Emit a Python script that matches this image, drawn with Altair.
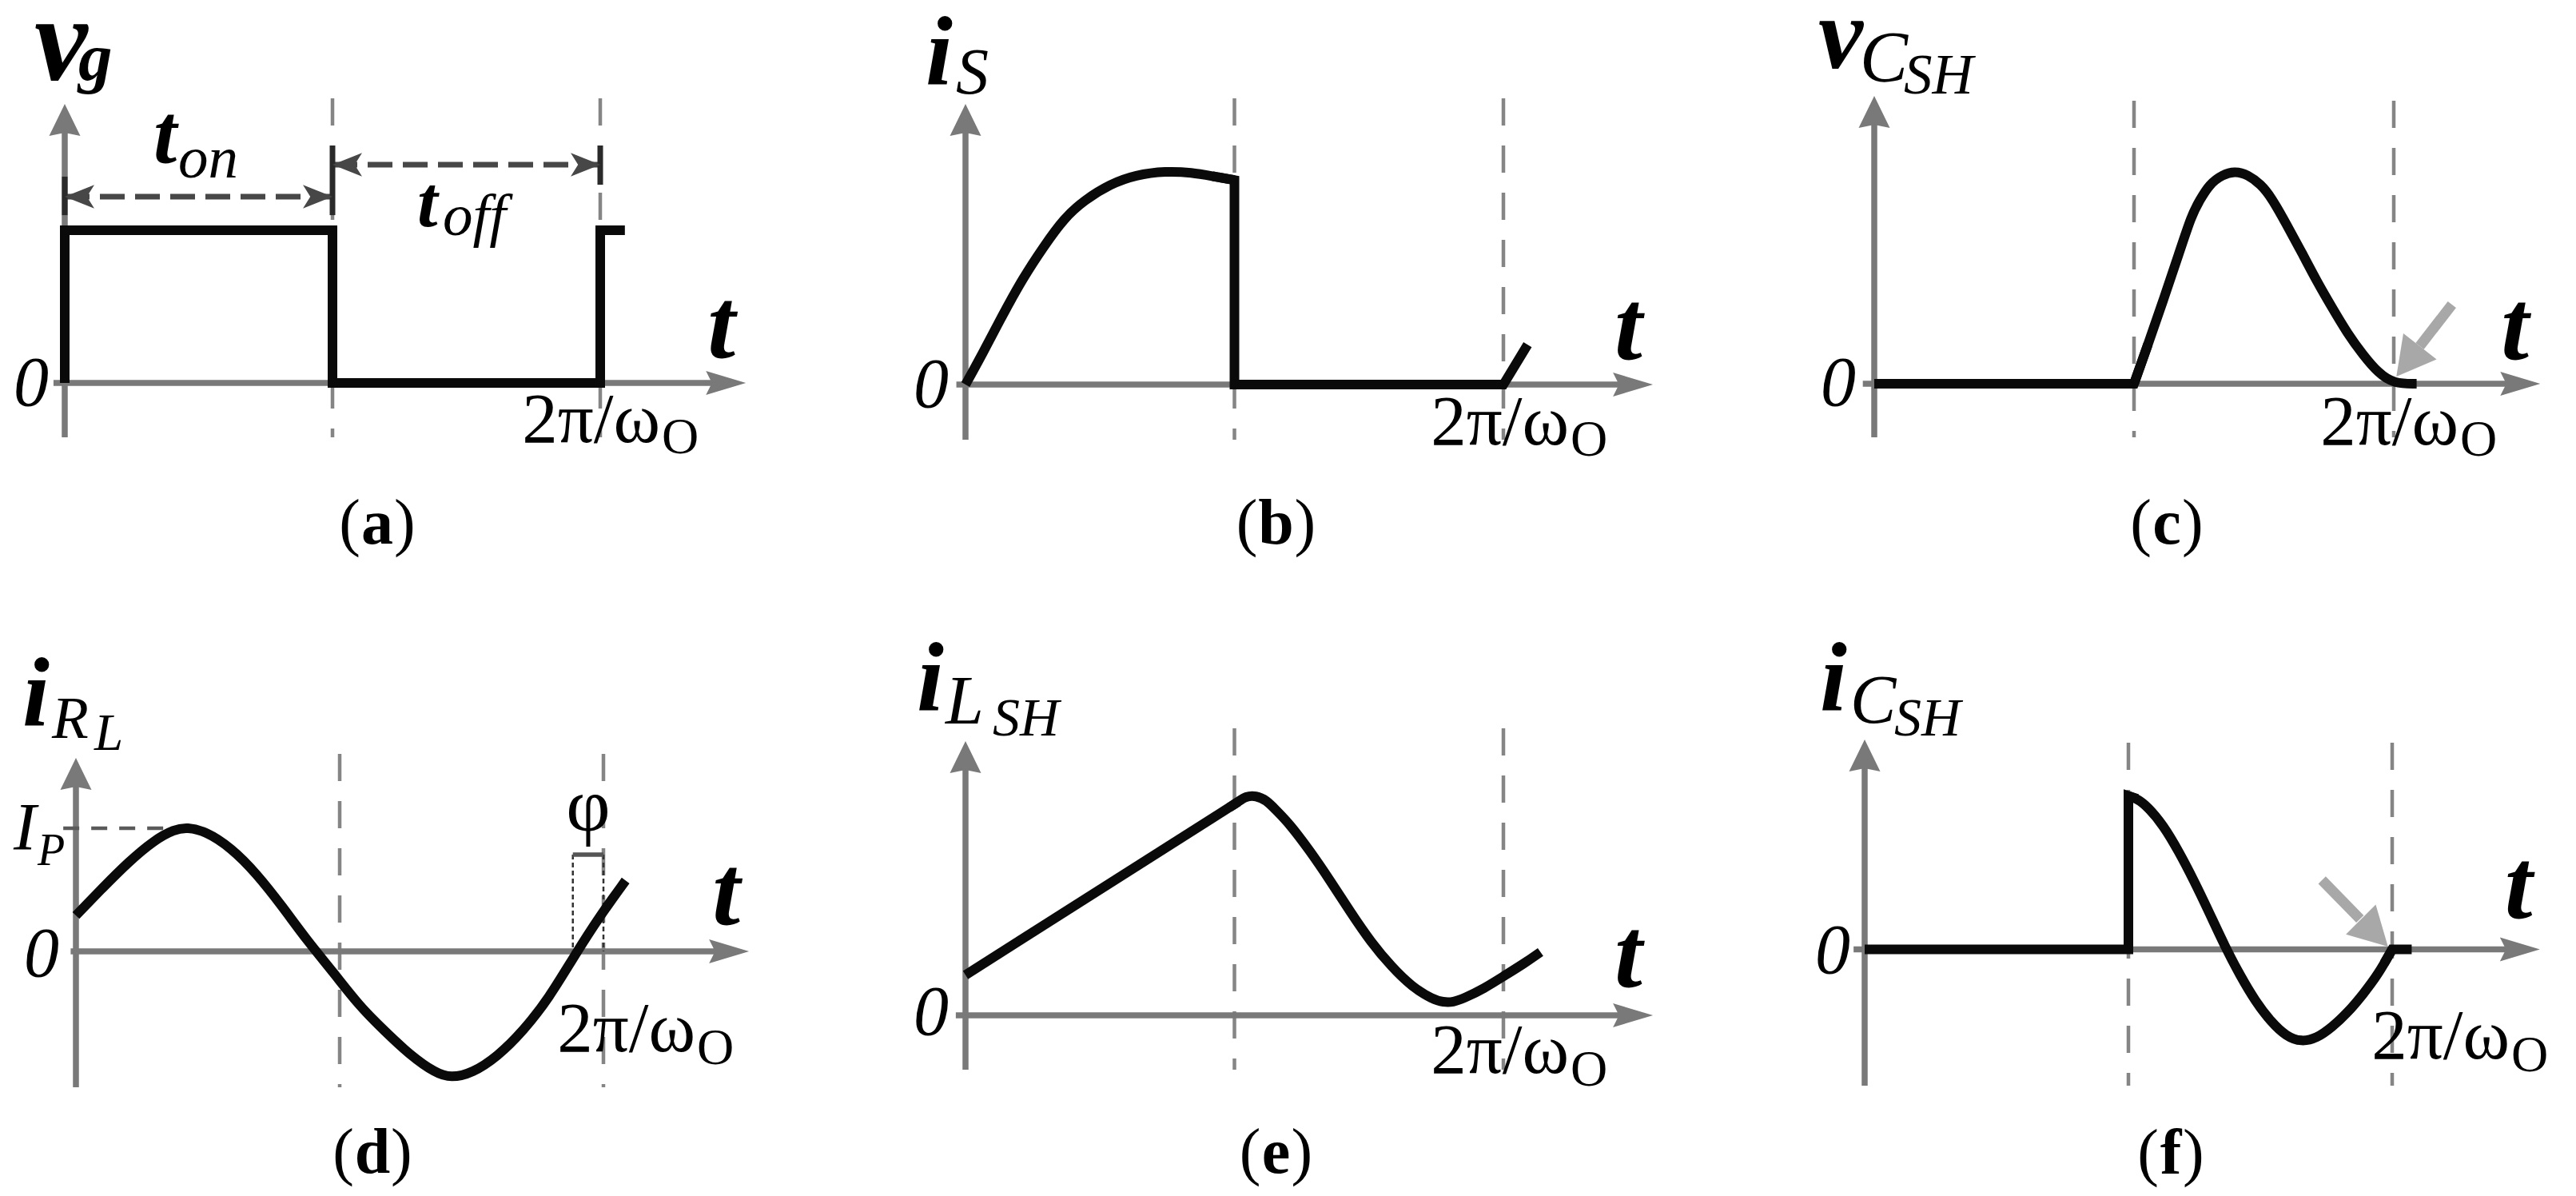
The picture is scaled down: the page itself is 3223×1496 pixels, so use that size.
import altair as alt
import pandas as pd

FONT = "Liberation Serif"
W, H = 1069, 740
AX_COL = "#797979"
GUIDE_COL = "#858585"
SIG_COL = "#0a0a0a"
NOTE_COL = "#474747"
HINT_COL = "#a8a8a8"

# ---------------- data (t in periods 2*pi/w0, values normalised) ----------------
# (a) gate voltage v_g
a_t = [0, 0, 0.5, 0.5, 1.0, 1.0, 1.046]
a_v = [0, 1, 1, 0, 0, 1, 1]
a_ton_v = 1.22
a_toff_v = 1.429

# (b) switch current i_S
b_rise_t = [0, 0.0305, 0.0686, 0.107, 0.145, 0.183, 0.221, 0.269, 0.316, 0.373, 0.421, 0.459, 0.5]
b_rise_v = [0, 0.139, 0.324, 0.50, 0.645, 0.779, 0.864, 0.939, 0.982, 1.0, 0.993, 0.976, 0.958]
b_off_t = [0.459, 0.5, 0.5, 1.0, 1.045]
b_off_v = [0.976, 0.958, 0, 0, 0.187]

# (c) shunt capacitor voltage v_CSH
c_flat_t = [0, 0.5, 0.527]
c_flat_v = [0, 0, 0.186]
c_pulse_t = [0.5, 0.527, 0.557, 0.586, 0.611, 0.626, 0.645, 0.670, 0.695, 0.719, 0.744, 0.764,
             0.793, 0.823, 0.852, 0.882, 0.911, 0.941, 0.970, 1.0, 1.044]
c_pulse_v = [0, 0.186, 0.397, 0.608, 0.794, 0.861, 0.938, 0.983, 1.0, 0.983, 0.938, 0.878,
             0.752, 0.617, 0.481, 0.355, 0.236, 0.135, 0.051, 0.0, 0.0]

# (d) load current i_RL
d_t = [0, 0.0505, 0.0991, 0.148, 0.187, 0.211, 0.245, 0.294, 0.342, 0.391, 0.439, 0.488,
       0.536, 0.585, 0.633, 0.682, 0.711, 0.751, 0.799, 0.848, 0.897, 0.945, 0.994, 1.042]
d_v = [0.288, 0.509, 0.715, 0.891, 0.979, 0.994, 0.965, 0.832, 0.626, 0.362, 0.082, -0.168,
       -0.432, -0.638, -0.830, -0.977, -1.015, -0.977, -0.844, -0.638, -0.373, -0.035, 0.288, 0.568]
d_ip_v = 0.987
d_phi_t = [0.942, 1.0]
d_phi_v = 0.776

# (e) shunt inductor current i_LSH
e_ramp_t = [0, 0.507]
e_ramp_v = [0.184, 0.975]
e_ring_t = [0.49, 0.507, 0.521, 0.540, 0.559, 0.578, 0.602, 0.640, 0.678, 0.716, 0.754, 0.792,
            0.830, 0.869, 0.888, 0.907, 0.926, 0.964, 1.002, 1.040, 1.069]
e_ring_v = [0.948, 0.975, 1.0, 1.003, 0.983, 0.935, 0.875, 0.752, 0.615, 0.470, 0.333, 0.222,
            0.130, 0.072, 0.060, 0.060, 0.077, 0.122, 0.181, 0.239, 0.289]

# (f) shunt capacitor current i_CSH
f_flat_t = [0, 0.5, 0.5, 0.517]
f_flat_v = [0, 0, 1.0, 0.981]
f_ring_t = [0.5, 0.517, 0.537, 0.566, 0.595, 0.624, 0.654, 0.683, 0.712, 0.741, 0.770, 0.799,
            0.828, 0.857, 0.886, 0.916, 0.945, 0.974, 1.0]
f_ring_v = [1.0, 0.981, 0.928, 0.809, 0.641, 0.450, 0.234, 0.019, -0.172, -0.340, -0.471, -0.567,
            -0.603, -0.579, -0.507, -0.411, -0.292, -0.160, 0.0]
f_end_t = [0.985, 1.0, 1.037]
f_end_v = [-0.09, 0.0, 0.0]

# gray hint arrows (tail, shaft end, tip)
c_hint_t = [1.112, 1.05, 1.005]
c_hint_v = [0.372, 0.177, 0.034]
f_hint_t = [0.867, 0.939, 0.992]
f_hint_v = [0.451, 0.198, 0.018]

# ---------------- shapes ----------------
X_HEAD = "M0,0L-2,-0.6L-1.7,0L-2,0.6Z"
Y_HEAD = "M0,0L-2,-0.975L-1.8,0L-2,0.975Z"
DIM_HEAD = "M0,0L-2,-0.8L-1.5,0L-2,0.8Z"
HINT_HEAD = "M0,0L-2,-1.1L-2,1.1Z"


def make_panel(p, extra_fn, labels):
    ox = p["ox"] - 8 - p["col"] * W
    oy = p["oy"] - 8 - p["row"] * H
    sx = alt.Scale(domain=[-ox / p["pt"], (W - ox) / p["pt"]], nice=False, zero=False)
    sy = alt.Scale(domain=[-(H - oy) / p["pa"], oy / p["pa"]], nice=False, zero=False)

    def X(f):
        return alt.X(f"{f}:Q", scale=sx, axis=None)

    def Y(f):
        return alt.Y(f"{f}:Q", scale=sy, axis=None)

    def rules(rows, **style):
        df = pd.DataFrame(rows, columns=["x1", "y1", "x2", "y2"])
        return alt.Chart(df).mark_rule(**style).encode(
            x=X("x1"), y=Y("y1"), x2=alt.X2("x2:Q"), y2=alt.Y2("y2:Q"))

    def head(t, v, angle, shape, size, color):
        df = pd.DataFrame({"t": [t], "v": [v]})
        return alt.Chart(df).mark_point(shape=shape, size=size, angle=angle, filled=True,
                                        color=color, opacity=1, strokeWidth=0).encode(
            x=X("t"), y=Y("v"))

    def curve(ts, vs, interp, color=SIG_COL, width=12):
        df = pd.DataFrame({"t": ts, "v": vs, "i": list(range(len(ts)))})
        return alt.Chart(df).mark_line(interpolate=interp, color=color, strokeWidth=width,
                                       strokeJoin="miter", strokeCap="butt").encode(
            x=X("t"), y=Y("v"), order="i:Q")

    def label(t, v, s, dx, dy, size, style="normal", weight="normal", align="left"):
        df = pd.DataFrame({"t": [t], "v": [v]})
        return alt.Chart(df).mark_text(text=s, dx=dx, dy=dy, fontSize=size, font=FONT,
                                       fontStyle=style, fontWeight=weight, align=align,
                                       baseline="alphabetic", color="black", clip=True).encode(
            x=X("t"), y=Y("v"))

    tools = dict(rules=rules, head=head, curve=curve, label=label)
    anchors = {"ytip": (0, p["vt"]), "xtip": (p["xe"], 0), "o": (0, 0), "T": (1, 0), "mid": (0.5, 0)}

    layers = []
    # period guides
    layers.append(rules([(0.5, p["gt"], 0.5, p["gb"]), (1.0, p["gt"], 1.0, p["gb"])],
                        color=GUIDE_COL, strokeWidth=4.5, strokeDash=[34, 25]))
    # axes
    layers.append(rules([(p["xs"], 0, p["xe"] - 30 / p["pt"], 0),
                         (0, p["vb"], 0, p["vt"] - 24 / p["pa"])],
                        color=AX_COL, strokeWidth=7.5))
    layers.append(head(p["xe"], 0, 0, X_HEAD, 2500, AX_COL))
    layers.append(head(0, p["vt"], 270, Y_HEAD, 1600, AX_COL))
    layers += extra_fn(tools)
    for lab in labels:
        s, anc, dx, dy, size = lab[:5]
        opts = lab[5] if len(lab) > 5 else {}
        t, v = anchors[anc] if isinstance(anc, str) else anc
        layers.append(label(t, v, s, dx, dy, size, **opts))
    return alt.layer(*layers).properties(width=W, height=H)


BI = dict(style="italic", weight="bold")
IT = dict(style="italic")
RT = dict(align="right")
ITR = dict(style="italic", align="right")
CEN = dict(align="center")
BC = dict(weight="bold", align="center")
LEFT = dict(align="left")


def caption(letter, dx, dy, half):
    return [("(", "mid", dx - half, dy, 80, RT),
            (letter, "mid", dx, dy, 80, BC),
            (")", "mid", dx + half, dy, 80, LEFT)]


def period_label(dx_o, dy_main, dy_sub):
    return [("2π/ω", "T", dx_o - 2, dy_main, 89, RT),
            ("O", "T", dx_o, dy_sub, 64)]


# ---------------- panel (a) ----------------
pa_ = dict(ox=81, oy=479, pt=670, pa=191, col=0, row=0,
           xs=-0.021, xe=1.272, vb=-0.356, vt=1.827, gt=1.864, gb=-0.356)


def extra_a(k):
    L = [k["curve"](a_t, a_v, "linear")]
    L.append(k["rules"]([(0, a_ton_v, 0.5, a_ton_v), (0.5, a_toff_v, 1.0, a_toff_v)],
                        color=NOTE_COL, strokeWidth=7, strokeDash=[31, 13]))
    L.append(k["rules"]([(0, 1.351, 0, 1.099), (0.5, 1.555, 0.5, 1.099), (1.0, 1.555, 1.0, 1.298)],
                        color="#2a2a2a", strokeWidth=7))
    L.append(k["head"](0, a_ton_v, 180, DIM_HEAD, 1369, NOTE_COL))
    L.append(k["head"](0.5, a_ton_v, 0, DIM_HEAD, 1369, NOTE_COL))
    L.append(k["head"](0.5, a_toff_v, 180, DIM_HEAD, 1369, NOTE_COL))
    L.append(k["head"](1.0, a_toff_v, 0, DIM_HEAD, 1369, NOTE_COL))
    return L


lab_a = [("v", "ytip", -38, -30, 150, BI), ("g", "ytip", 17, -30, 85, BI),
         ("t", "xtip", -48, -32, 125, BI), ("0", "o", -20, 28, 88, ITR),
         ("t", (0, a_ton_v), 111, -43, 105, BI), ("on", (0, a_ton_v), 142, -24, 75, IT),
         ("t", (0.5, a_toff_v), 106, 77, 92, BI), ("off", (0.5, a_toff_v), 138, 88, 75, IT)]
lab_a += period_label(77, 74, 88) + caption("a", 56, 201, 21)

# ---------------- panel (b) ----------------
pb_ = dict(ox=1208, oy=481, pt=673, pa=267, col=1, row=0,
           xs=-0.017, xe=1.278, vb=-0.258, vt=1.315, gt=1.341, gb=-0.258)


def extra_b(k):
    return [k["curve"](b_rise_t, b_rise_v, "basis"), k["curve"](b_off_t, b_off_v, "linear")]


lab_b = [("i", "ytip", -50, -25, 122, BI), ("S", "ytip", -12, -13, 82, IT),
         ("t", "xtip", -48, -32, 125, BI), ("0", "o", -21, 28, 88, ITR)]
lab_b += period_label(84, 75, 89) + caption("b", 52, 199, 23)

# ---------------- panel (c) ----------------
pc_ = dict(ox=2345, oy=480, pt=650, pa=266, col=2, row=0,
           xs=-0.022, xe=1.282, vb=-0.252, vt=1.353, gt=1.331, gb=-0.252)


def extra_c(k):
    return [k["curve"](c_flat_t, c_flat_v, "linear"),
            k["curve"](c_pulse_t, c_pulse_v, "basis"),
            k["rules"]([(c_hint_t[0], c_hint_v[0], c_hint_t[1], c_hint_v[1])],
                       color=HINT_COL, strokeWidth=13),
            k["head"](c_hint_t[2], c_hint_v[2], 128, HINT_HEAD, 2304, HINT_COL)]


lab_c = [("v", "ytip", -70, -35, 126, BI), ("C", "ytip", -18, -18, 90, IT),
         ("SH", "ytip", 37, -3, 71, IT),
         ("t", "xtip", -49, -31, 125, BI), ("0", "o", -23, 27, 88, ITR)]
lab_c += period_label(83, 76, 90) + caption("c", 41, 200, 19)

# ---------------- panel (d) ----------------
pd_ = dict(ox=95, oy=1190, pt=660, pa=156, col=0, row=1,
           xs=-0.01, xe=1.276, vb=-1.09, vt=1.551, gt=1.583, gb=-1.09)


def extra_d(k):
    return [k["rules"]([(-0.024, d_ip_v, 0.17, d_ip_v)], color="#5a5a5a", strokeWidth=4.5,
                       strokeDash=[20, 15]),
            k["rules"]([(d_phi_t[0], d_phi_v, d_phi_t[0], 0), (d_phi_t[1], d_phi_v, d_phi_t[1], 0)],
                       color="#333333", strokeWidth=2.5, strokeDash=[6, 4]),
            k["rules"]([(d_phi_t[0], d_phi_v, d_phi_t[1], d_phi_v)], color="#555555", strokeWidth=5.5),
            k["curve"](d_t, d_v, "basis")]


lab_d = [("i", "ytip", -67, -41, 122, BI), ("R", "ytip", -30, -25, 75, IT),
         ("L", "ytip", 23, -10, 65, IT),
         ("I", (0, d_ip_v), -78, 27, 85, IT), ("P", (0, d_ip_v), -48, 46, 56, IT),
         ("φ", (0.971, d_phi_v), 0, -30, 96, CEN),
         ("t", "xtip", -46, -34, 125, BI), ("0", "o", -21, 31, 88, ITR)]
lab_d += period_label(117, 125, 141) + caption("d", 41, 277, 23)

# ---------------- panel (e) ----------------
pe_ = dict(ox=1208, oy=1270, pt=673, pa=274, col=1, row=1,
           xs=-0.018, xe=1.278, vb=-0.248, vt=1.252, gt=1.31, gb=-0.248)


def extra_e(k):
    return [k["curve"](e_ramp_t, e_ramp_v, "linear"), k["curve"](e_ring_t, e_ring_v, "basis")]


lab_e = [("i", "ytip", -61, -39, 122, BI), ("L", "ytip", -25, -22, 86, IT),
         ("SH", "ytip", 34, -7, 68, IT),
         ("t", "xtip", -48, -36, 125, BI), ("0", "o", -21, 24, 88, ITR)]
lab_e += period_label(84, 72, 88) + caption("e", 52, 197, 19)

# ---------------- panel (f) ----------------
pf_ = dict(ox=2333, oy=1187.5, pt=660, pa=192, col=2, row=1,
           xs=-0.021, xe=1.280, vb=-0.888, vt=1.367, gt=1.346, gb=-0.888)


def extra_f(k):
    return [k["curve"](f_flat_t, f_flat_v, "linear"),
            k["curve"](f_ring_t, f_ring_v, "basis"),
            k["curve"](f_end_t, f_end_v, "linear"),
            k["rules"]([(f_hint_t[0], f_hint_v[0], f_hint_t[1], f_hint_v[1])],
                       color=HINT_COL, strokeWidth=13),
            k["head"](f_hint_t[2], f_hint_v[2], 45, HINT_HEAD, 2304, HINT_COL)]


lab_f = [("i", "ytip", -56, -37, 122, BI), ("C", "ytip", -18, -21, 86, IT),
         ("SH", "ytip", 37, -5, 68, IT),
         ("t", "xtip", -44, -40, 125, BI), ("0", "o", -18, 29, 88, ITR)]
lab_f += period_label(149, 136, 152) + caption("f", 53, 280, 15)

top = alt.hconcat(make_panel(pa_, extra_a, lab_a), make_panel(pb_, extra_b, lab_b),
                  make_panel(pc_, extra_c, lab_c), spacing=0)
bottom = alt.hconcat(make_panel(pd_, extra_d, lab_d), make_panel(pe_, extra_e, lab_e),
                     make_panel(pf_, extra_f, lab_f), spacing=0)

chart = alt.vconcat(top, bottom, spacing=0).properties(
    padding=0, background="white").configure_view(strokeWidth=0)

chart.save("out.html", embed_options={"renderer": "svg", "actions": False})
